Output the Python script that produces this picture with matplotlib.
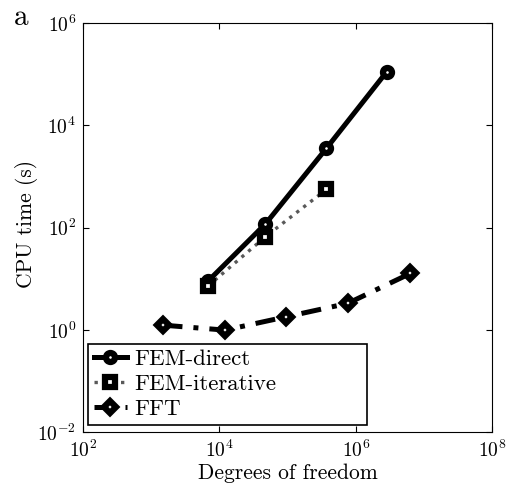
import matplotlib
matplotlib.use("Agg")
import matplotlib.pyplot as plt
from matplotlib.ticker import FixedLocator, LogFormatterMathtext, NullLocator

plt.rcParams["font.family"] = "serif"
plt.rcParams["font.serif"] = ["cmr10"]
plt.rcParams["mathtext.fontset"] = "cm"
plt.rcParams["axes.formatter.use_mathtext"] = True

# CPU time versus problem size for the three solvers
dof_direct = [6.8e3, 4.7e4, 3.7e5, 2.85e6]
cpu_direct = [9.0, 117.0, 3540.0, 1.12e5]

dof_iter = [6.8e3, 4.7e4, 3.7e5]
cpu_iter = [7.2, 66.0, 558.0]

dof_fft = [1.46e3, 1.21e4, 9.5e4, 7.6e5, 6.3e6]
cpu_fft = [1.24, 0.99, 1.8, 3.3, 12.7]

x_ticks = [1e2, 1e4, 1e6, 1e8]
y_ticks = [1e-2, 1e0, 1e2, 1e4, 1e6]

fig = plt.figure(figsize=(5.1, 4.9), dpi=100)
ax = fig.add_axes([0.163, 0.118, 0.802, 0.835])

# thick edges leave only a small white dot inside each marker
mk = dict(ms=6.5, mfc="white", mec="black", mew=4.5)
ax.plot(dof_direct, cpu_direct, "-", color="black", lw=3.6,
        marker="o", label="FEM-direct", **mk)
ax.plot(dof_iter, cpu_iter, ":", color="0.35", lw=2.4,
        marker="s", label="FEM-iterative", **mk)
ax.plot(dof_fft, cpu_fft, color="black", lw=3.6,
        dashes=(4, 2.2, 1, 2.2), marker="D", label="FFT", **mk)

ax.set_xscale("log")
ax.set_yscale("log")
ax.set_xlim(1e2, 1e8)
ax.set_ylim(1e-2, 1e6)
ax.xaxis.set_major_locator(FixedLocator(x_ticks))
ax.yaxis.set_major_locator(FixedLocator(y_ticks))
ax.xaxis.set_minor_locator(NullLocator())
ax.yaxis.set_minor_locator(NullLocator())
ax.xaxis.set_major_formatter(LogFormatterMathtext())
ax.yaxis.set_major_formatter(LogFormatterMathtext())
ax.tick_params(direction="in", top=True, right=True, length=4,
               labelsize=14, pad=5)

ax.set_xlabel("Degrees of freedom", fontsize=15.5, labelpad=2)
ax.set_ylabel("CPU time (s)", fontsize=15.5)
ax.yaxis.set_label_coords(-0.11, 0.51)

# legend box stretched to a fixed width in axes coordinates
leg = ax.legend(loc="lower left", bbox_to_anchor=(0.012, 0.017, 0.682, 0.2),
                mode="expand", fontsize=16.5, fancybox=False,
                edgecolor="black", framealpha=1, handlelength=1.45,
                handletextpad=0.3, borderpad=0.25, labelspacing=0.22,
                borderaxespad=0.0)
leg.get_frame().set_linewidth(1.2)

fig.text(0.028, 0.949, "a", fontsize=21)

fig.savefig("out.png", dpi=100)
